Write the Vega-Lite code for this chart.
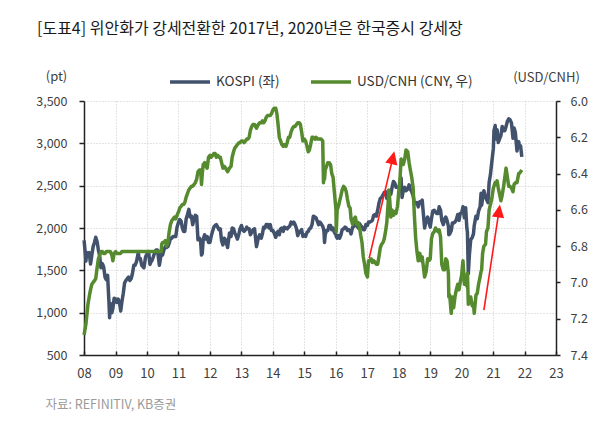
{
"$schema": "https://vega.github.io/schema/vega-lite/v6.json",
"width": 472, "height": 254,
"autosize": {"type": "none"},
"padding": {"left": 84, "top": 101, "right": 54, "bottom": 75},
"background": "white",
"config": {
"font": "Noto Sans CJK KR",
"view": {"stroke": null},
"axisX": {"labelExpr": "utcFormat(datum.value, '%y')", "tickCount": {"interval": "year", "step": 1}, "labelFontSize": 13, "labelColor": "#404040", "labelPadding": 16, "tickSize": -4, "tickColor": "#222", "tickWidth": 1.5, "domainColor": "#222", "domainWidth": 1.5, "grid": true, "gridColor": "#c8c8c8", "gridDash": [1, 2], "gridWidth": 1, "labelFlush": false, "labelOverlap": false, "titleX": -39, "titleY": 49, "titleAlign": "left", "titleAnchor": "start", "titleBaseline": "middle", "titleFontSize": 12.5, "titleFontWeight": "normal", "titleColor": "#9a9a9a"},
"axisY": {"labelFontSize": 12.5, "labelColor": "#404040", "tickColor": "#222", "tickWidth": 1.5, "domainColor": "#222", "domainWidth": 1.5, "titleAngle": 0, "titleAlign": "center", "titleBaseline": "middle", "titleFontSize": 13, "titleFontWeight": "normal", "titleColor": "#404040"}
},
"title": {"text": "[도표4] 위안화가 강세전환한 2017년, 2020년은 한국증시 강세장", "anchor": "start", "frame": "group", "dx": -47, "offset": 23, "fontSize": 16, "fontWeight": "normal", "color": "#1a1a1a"},
"datasets": {
"main": [
{"d":"2008-01-02","k":1853,"c":7.29},{"d":"2008-01-16","k":1700,"c":7.25},{"d":"2008-01-23","k":1610,"c":7.23},{"d":"2008-02-01","k":1710,"c":7.19},{"d":"2008-02-16","k":1690,"c":7.12},{"d":"2008-03-01","k":1710,"c":7.08},{"d":"2008-03-17","k":1575,"c":7.04},{"d":"2008-04-01","k":1680,"c":7.01},{"d":"2008-04-16","k":1780,"c":7.00},{"d":"2008-05-01","k":1830,"c":6.99},{"d":"2008-05-16","k":1890,"c":6.98},{"d":"2008-06-01","k":1840,"c":6.92},{"d":"2008-06-16","k":1740,"c":6.87},{"d":"2008-07-01","k":1670,"c":6.85},{"d":"2008-07-16","k":1530,"c":6.83},{"d":"2008-08-01","k":1580,"c":6.83},{"d":"2008-08-16","k":1540,"c":6.84},{"d":"2008-09-01","k":1420,"c":6.84},{"d":"2008-09-16","k":1390,"c":6.83},{"d":"2008-10-01","k":1440,"c":6.83},{"d":"2008-10-16","k":1140,"c":6.83},{"d":"2008-10-24","k":940,"c":6.83},{"d":"2008-11-01","k":1110,"c":6.83},{"d":"2008-11-20","k":1000,"c":6.85},{"d":"2008-12-01","k":1050,"c":6.88},{"d":"2008-12-16","k":1170,"c":6.84},
{"d":"2009-01-02","k":1160,"c":6.83},{"d":"2009-01-16","k":1120,"c":6.84},{"d":"2009-02-01","k":1160,"c":6.84},{"d":"2009-02-16","k":1120,"c":6.84},{"d":"2009-03-02","k":1020,"c":6.84},{"d":"2009-03-16","k":1130,"c":6.83},{"d":"2009-04-01","k":1230,"c":6.83},{"d":"2009-04-16","k":1350,"c":6.83},{"d":"2009-05-01","k":1380,"c":6.83},{"d":"2009-05-16","k":1400,"c":6.83},{"d":"2009-06-01","k":1420,"c":6.83},{"d":"2009-06-16","k":1380,"c":6.83},{"d":"2009-07-01","k":1400,"c":6.83},{"d":"2009-07-16","k":1460,"c":6.83},{"d":"2009-08-01","k":1560,"c":6.83},{"d":"2009-08-16","k":1560,"c":6.83},{"d":"2009-09-01","k":1600,"c":6.83},{"d":"2009-09-22","k":1710,"c":6.83},{"d":"2009-10-01","k":1640,"c":6.83},{"d":"2009-10-16","k":1640,"c":6.83},{"d":"2009-11-01","k":1560,"c":6.83},{"d":"2009-11-27","k":1530,"c":6.83},{"d":"2009-12-16","k":1660,"c":6.83},
{"d":"2010-01-04","k":1700,"c":6.83},{"d":"2010-01-20","k":1720,"c":6.83},{"d":"2010-02-05","k":1570,"c":6.83},{"d":"2010-02-16","k":1600,"c":6.83},{"d":"2010-03-02","k":1620,"c":6.83},{"d":"2010-03-16","k":1660,"c":6.83},{"d":"2010-04-01","k":1710,"c":6.83},{"d":"2010-04-16","k":1740,"c":6.83},{"d":"2010-05-03","k":1740,"c":6.83},{"d":"2010-05-25","k":1560,"c":6.83},{"d":"2010-06-16","k":1700,"c":6.83},{"d":"2010-06-21","k":1720,"c":6.79},{"d":"2010-07-01","k":1680,"c":6.78},{"d":"2010-07-16","k":1740,"c":6.78},{"d":"2010-08-02","k":1780,"c":6.77},{"d":"2010-08-16","k":1770,"c":6.80},{"d":"2010-09-01","k":1780,"c":6.78},{"d":"2010-09-16","k":1820,"c":6.72},{"d":"2010-10-01","k":1880,"c":6.68},{"d":"2010-10-16","k":1880,"c":6.66},{"d":"2010-11-01","k":1900,"c":6.65},{"d":"2010-11-16","k":1900,"c":6.64},{"d":"2010-12-01","k":1900,"c":6.65},{"d":"2010-12-16","k":2010,"c":6.63},
{"d":"2011-01-03","k":2070,"c":6.61},{"d":"2011-01-16","k":2100,"c":6.59},{"d":"2011-02-01","k":2080,"c":6.58},{"d":"2011-02-16","k":2000,"c":6.57},{"d":"2011-03-02","k":1960,"c":6.57},{"d":"2011-03-16","k":1960,"c":6.56},{"d":"2011-04-01","k":2110,"c":6.53},{"d":"2011-04-16","k":2160,"c":6.51},{"d":"2011-05-02","k":2220,"c":6.49},{"d":"2011-05-16","k":2130,"c":6.48},{"d":"2011-06-01","k":2140,"c":6.47},{"d":"2011-06-16","k":2040,"c":6.47},{"d":"2011-07-01","k":2100,"c":6.46},{"d":"2011-07-16","k":2150,"c":6.45},{"d":"2011-08-01","k":2140,"c":6.43},{"d":"2011-08-16","k":1860,"c":6.39},{"d":"2011-09-01","k":1880,"c":6.38},{"d":"2011-09-16","k":1840,"c":6.38},{"d":"2011-09-26","k":1680,"c":6.46},{"d":"2011-10-05","k":1700,"c":6.40},{"d":"2011-10-16","k":1870,"c":6.35},{"d":"2011-11-01","k":1920,"c":6.34},{"d":"2011-11-16","k":1870,"c":6.36},{"d":"2011-12-01","k":1900,"c":6.37},{"d":"2011-12-16","k":1830,"c":6.31},
{"d":"2012-01-02","k":1830,"c":6.30},{"d":"2012-01-16","k":1900,"c":6.31},{"d":"2012-02-01","k":1960,"c":6.30},{"d":"2012-02-16","k":2010,"c":6.29},{"d":"2012-03-02","k":2030,"c":6.29},{"d":"2012-03-16","k":2040,"c":6.31},{"d":"2012-04-02","k":2010,"c":6.30},{"d":"2012-04-16","k":1980,"c":6.31},{"d":"2012-05-01","k":1990,"c":6.31},{"d":"2012-05-16","k":1850,"c":6.34},{"d":"2012-06-01","k":1800,"c":6.37},{"d":"2012-06-16","k":1880,"c":6.36},{"d":"2012-07-02","k":1860,"c":6.37},{"d":"2012-07-25","k":1770,"c":6.39},{"d":"2012-08-16","k":1940,"c":6.37},{"d":"2012-09-03","k":1900,"c":6.36},{"d":"2012-09-16","k":2000,"c":6.31},{"d":"2012-10-02","k":1990,"c":6.28},{"d":"2012-10-16","k":1940,"c":6.26},{"d":"2012-11-01","k":1910,"c":6.25},{"d":"2012-11-16","k":1870,"c":6.24},{"d":"2012-12-03","k":1930,"c":6.23},{"d":"2012-12-16","k":1990,"c":6.23},
{"d":"2013-01-02","k":2030,"c":6.22},{"d":"2013-01-16","k":1980,"c":6.22},{"d":"2013-02-01","k":1960,"c":6.23},{"d":"2013-02-18","k":1980,"c":6.22},{"d":"2013-03-04","k":2010,"c":6.21},{"d":"2013-03-18","k":1990,"c":6.21},{"d":"2013-04-01","k":1990,"c":6.20},{"d":"2013-04-16","k":1920,"c":6.16},{"d":"2013-05-02","k":1950,"c":6.14},{"d":"2013-05-16","k":1980,"c":6.13},{"d":"2013-06-03","k":1990,"c":6.13},{"d":"2013-06-25","k":1780,"c":6.15},{"d":"2013-07-16","k":1880,"c":6.13},{"d":"2013-08-01","k":1920,"c":6.12},{"d":"2013-08-20","k":1880,"c":6.12},{"d":"2013-09-02","k":1930,"c":6.11},{"d":"2013-09-16","k":2010,"c":6.12},{"d":"2013-10-01","k":2000,"c":6.11},{"d":"2013-10-16","k":2040,"c":6.09},{"d":"2013-11-01","k":2040,"c":6.08},{"d":"2013-11-18","k":2000,"c":6.08},{"d":"2013-12-02","k":2040,"c":6.08},{"d":"2013-12-16","k":1970,"c":6.07},
{"d":"2014-01-02","k":1970,"c":6.05},{"d":"2014-01-16","k":1940,"c":6.04},{"d":"2014-02-04","k":1890,"c":6.04},{"d":"2014-02-17","k":1940,"c":6.07},{"d":"2014-03-03","k":1960,"c":6.13},{"d":"2014-03-17","k":1920,"c":6.20},{"d":"2014-04-01","k":1990,"c":6.22},{"d":"2014-04-16","k":2000,"c":6.24},{"d":"2014-05-02","k":1960,"c":6.25},{"d":"2014-05-16","k":2010,"c":6.24},{"d":"2014-06-02","k":2000,"c":6.25},{"d":"2014-06-16","k":1990,"c":6.23},{"d":"2014-07-01","k":2010,"c":6.20},{"d":"2014-07-16","k":2020,"c":6.20},{"d":"2014-08-01","k":2070,"c":6.17},{"d":"2014-08-18","k":2050,"c":6.15},{"d":"2014-09-01","k":2070,"c":6.14},{"d":"2014-09-16","k":2040,"c":6.14},{"d":"2014-10-01","k":2000,"c":6.13},{"d":"2014-10-17","k":1910,"c":6.12},{"d":"2014-11-03","k":1960,"c":6.12},{"d":"2014-11-17","k":1950,"c":6.13},{"d":"2014-12-01","k":1980,"c":6.17},{"d":"2014-12-16","k":1900,"c":6.22},
{"d":"2015-01-02","k":1920,"c":6.21},{"d":"2015-01-16","k":1900,"c":6.22},{"d":"2015-02-02","k":1950,"c":6.25},{"d":"2015-02-16","k":1960,"c":6.28},{"d":"2015-03-02","k":1990,"c":6.27},{"d":"2015-03-16","k":2000,"c":6.24},{"d":"2015-04-01","k":2040,"c":6.20},{"d":"2015-04-16","k":2140,"c":6.20},{"d":"2015-05-04","k":2130,"c":6.21},{"d":"2015-05-18","k":2120,"c":6.20},{"d":"2015-06-01","k":2080,"c":6.21},{"d":"2015-06-16","k":2040,"c":6.21},{"d":"2015-07-01","k":2070,"c":6.21},{"d":"2015-07-16","k":2050,"c":6.21},{"d":"2015-08-03","k":2020,"c":6.22},{"d":"2015-08-12","k":1990,"c":6.45},{"d":"2015-08-18","k":1950,"c":6.40},{"d":"2015-08-24","k":1830,"c":6.43},{"d":"2015-09-01","k":1920,"c":6.38},{"d":"2015-09-16","k":1970,"c":6.36},{"d":"2015-10-01","k":1970,"c":6.34},{"d":"2015-10-16","k":2030,"c":6.34},{"d":"2015-11-02","k":2030,"c":6.35},{"d":"2015-11-16","k":1980,"c":6.40},{"d":"2015-12-01","k":2000,"c":6.42},{"d":"2015-12-16","k":1950,"c":6.50},
{"d":"2016-01-04","k":1920,"c":6.60},{"d":"2016-01-07","k":1900,"c":6.72},{"d":"2016-01-18","k":1880,"c":6.60},{"d":"2016-02-01","k":1910,"c":6.58},{"d":"2016-02-16","k":1880,"c":6.55},{"d":"2016-03-02","k":1920,"c":6.52},{"d":"2016-03-16","k":1980,"c":6.49},{"d":"2016-04-01","k":1990,"c":6.47},{"d":"2016-04-18","k":2010,"c":6.48},{"d":"2016-05-02","k":2000,"c":6.50},{"d":"2016-05-16","k":1970,"c":6.54},{"d":"2016-06-01","k":1980,"c":6.58},{"d":"2016-06-16","k":1960,"c":6.59},{"d":"2016-06-27","k":1930,"c":6.65},{"d":"2016-07-15","k":2010,"c":6.68},{"d":"2016-08-01","k":2020,"c":6.65},{"d":"2016-08-16","k":2050,"c":6.64},{"d":"2016-09-01","k":2030,"c":6.68},{"d":"2016-09-19","k":2000,"c":6.67},{"d":"2016-10-04","k":2050,"c":6.70},{"d":"2016-10-17","k":2030,"c":6.74},{"d":"2016-11-01","k":2010,"c":6.78},{"d":"2016-11-16","k":1980,"c":6.86},{"d":"2016-12-01","k":1980,"c":6.90},{"d":"2016-12-16","k":2040,"c":6.95},
{"d":"2017-01-03","k":2030,"c":6.97},{"d":"2017-01-16","k":2070,"c":6.88},{"d":"2017-02-01","k":2070,"c":6.88},{"d":"2017-02-16","k":2080,"c":6.87},{"d":"2017-03-02","k":2090,"c":6.89},{"d":"2017-03-16","k":2150,"c":6.88},{"d":"2017-04-03","k":2160,"c":6.89},{"d":"2017-04-17","k":2140,"c":6.90},{"d":"2017-05-02","k":2210,"c":6.90},{"d":"2017-05-16","k":2290,"c":6.86},{"d":"2017-06-01","k":2350,"c":6.81},{"d":"2017-06-16","k":2360,"c":6.79},{"d":"2017-07-03","k":2390,"c":6.78},{"d":"2017-07-17","k":2420,"c":6.76},{"d":"2017-08-01","k":2430,"c":6.72},{"d":"2017-08-16","k":2350,"c":6.67},{"d":"2017-09-01","k":2360,"c":6.56},{"d":"2017-09-08","k":2340,"c":6.49},{"d":"2017-09-18","k":2390,"c":6.54},{"d":"2017-10-02","k":2400,"c":6.64},{"d":"2017-10-16","k":2480,"c":6.60},{"d":"2017-11-01","k":2550,"c":6.63},{"d":"2017-11-16","k":2530,"c":6.61},{"d":"2017-12-01","k":2480,"c":6.62},{"d":"2017-12-18","k":2480,"c":6.58},
{"d":"2018-01-02","k":2480,"c":6.50},{"d":"2018-01-16","k":2520,"c":6.43},{"d":"2018-01-29","k":2590,"c":6.32},{"d":"2018-02-09","k":2360,"c":6.33},{"d":"2018-02-23","k":2440,"c":6.35},{"d":"2018-03-12","k":2480,"c":6.32},{"d":"2018-03-27","k":2440,"c":6.27},{"d":"2018-04-16","k":2460,"c":6.28},{"d":"2018-05-02","k":2510,"c":6.34},{"d":"2018-05-16","k":2460,"c":6.38},{"d":"2018-06-01","k":2430,"c":6.42},{"d":"2018-06-18","k":2380,"c":6.48},{"d":"2018-07-02","k":2290,"c":6.63},{"d":"2018-07-16","k":2290,"c":6.75},{"d":"2018-08-01","k":2300,"c":6.83},{"d":"2018-08-16","k":2250,"c":6.88},{"d":"2018-09-03","k":2310,"c":6.84},{"d":"2018-09-17","k":2310,"c":6.88},{"d":"2018-10-01","k":2330,"c":6.86},{"d":"2018-10-16","k":2150,"c":6.92},{"d":"2018-10-29","k":2000,"c":6.97},{"d":"2018-11-16","k":2090,"c":6.94},{"d":"2018-12-03","k":2130,"c":6.87},{"d":"2018-12-17","k":2070,"c":6.88},
{"d":"2019-01-02","k":2010,"c":6.87},{"d":"2019-01-16","k":2110,"c":6.76},{"d":"2019-02-01","k":2200,"c":6.73},{"d":"2019-02-18","k":2210,"c":6.72},{"d":"2019-03-04","k":2190,"c":6.70},{"d":"2019-03-18","k":2170,"c":6.71},{"d":"2019-04-01","k":2170,"c":6.72},{"d":"2019-04-16","k":2250,"c":6.71},{"d":"2019-05-02","k":2210,"c":6.75},{"d":"2019-05-16","k":2090,"c":6.90},{"d":"2019-06-03","k":2040,"c":6.93},{"d":"2019-06-17","k":2100,"c":6.93},{"d":"2019-07-01","k":2130,"c":6.87},{"d":"2019-07-16","k":2090,"c":6.88},{"d":"2019-08-01","k":2020,"c":6.95},{"d":"2019-08-06","k":1920,"c":7.08},{"d":"2019-08-16","k":1930,"c":7.07},{"d":"2019-09-03","k":1970,"c":7.17},{"d":"2019-09-16","k":2060,"c":7.08},{"d":"2019-10-01","k":2060,"c":7.14},{"d":"2019-10-16","k":2070,"c":7.08},{"d":"2019-11-01","k":2100,"c":7.04},{"d":"2019-11-18","k":2160,"c":7.01},{"d":"2019-12-02","k":2090,"c":7.04},{"d":"2019-12-16","k":2170,"c":7.00},
{"d":"2020-01-02","k":2180,"c":6.96},{"d":"2020-01-17","k":2250,"c":6.88},{"d":"2020-02-03","k":2120,"c":7.01},{"d":"2020-02-17","k":2240,"c":6.99},{"d":"2020-03-02","k":2000,"c":7.02},{"d":"2020-03-09","k":1950,"c":6.95},{"d":"2020-03-19","k":1460,"c":7.12},{"d":"2020-04-01","k":1690,"c":7.10},{"d":"2020-04-16","k":1860,"c":7.08},{"d":"2020-05-04","k":1890,"c":7.13},{"d":"2020-05-18","k":1930,"c":7.12},{"d":"2020-05-27","k":2030,"c":7.17},{"d":"2020-06-16","k":2140,"c":7.07},{"d":"2020-07-01","k":2110,"c":7.06},{"d":"2020-07-16","k":2200,"c":7.01},{"d":"2020-08-03","k":2250,"c":6.97},{"d":"2020-08-14","k":2410,"c":6.94},{"d":"2020-08-21","k":2270,"c":6.93},{"d":"2020-09-01","k":2350,"c":6.84},{"d":"2020-09-16","k":2440,"c":6.80},{"d":"2020-10-05","k":2360,"c":6.79},{"d":"2020-10-16","k":2340,"c":6.72},{"d":"2020-11-02","k":2300,"c":6.70},{"d":"2020-11-16","k":2540,"c":6.60},{"d":"2020-12-01","k":2630,"c":6.57},{"d":"2020-12-16","k":2770,"c":6.54},
{"d":"2021-01-04","k":2940,"c":6.48},{"d":"2021-01-11","k":3150,"c":6.47},{"d":"2021-01-25","k":3210,"c":6.45},{"d":"2021-02-01","k":3050,"c":6.46},{"d":"2021-02-16","k":3160,"c":6.44},{"d":"2021-03-02","k":3010,"c":6.48},{"d":"2021-03-16","k":3050,"c":6.51},{"d":"2021-04-01","k":3090,"c":6.55},{"d":"2021-04-16","k":3200,"c":6.52},{"d":"2021-05-03","k":3150,"c":6.47},{"d":"2021-05-17","k":3150,"c":6.42},{"d":"2021-05-31","k":3200,"c":6.37},{"d":"2021-06-16","k":3260,"c":6.42},{"d":"2021-07-01","k":3290,"c":6.47},{"d":"2021-07-16","k":3280,"c":6.47},{"d":"2021-08-02","k":3240,"c":6.48},{"d":"2021-08-20","k":3060,"c":6.50},{"d":"2021-09-01","k":3180,"c":6.46},{"d":"2021-09-16","k":3130,"c":6.45},{"d":"2021-10-05","k":2910,"c":6.45},{"d":"2021-10-25","k":3020,"c":6.40},{"d":"2021-11-01","k":2980,"c":6.40},{"d":"2021-11-16","k":2970,"c":6.39},{"d":"2021-11-30","k":2840,"c":6.38}
],
"arrows": [
{"id":"a2017","d0":"2017-01-23","v0":6.867,"d1":"2017-10-25","v1":6.312},
{"id":"a2020","d0":"2020-09-16","v0":7.152,"d1":"2021-03-10","v1":6.606}
]
},
"layer": [
{
"data": {"name": "main"},
"mark": {"type": "line", "strokeWidth": 3.5, "strokeJoin": "round"},
"encoding": {
"x": {"field": "d", "type": "temporal",
"scale": {"type": "utc", "nice": false, "domain": [{"year": 2008, "month": 1, "date": 1, "utc": true}, {"year": 2023, "month": 1, "date": 1, "utc": true}]},
"axis": {"title": "자료: REFINITIV, KB증권"}},
"y": {"field": "k", "type": "quantitative",
"scale": {"domain": [500, 3500], "nice": false, "zero": false},
"axis": {"orient": "left", "values": [500, 1000, 1500, 2000, 2500, 3000, 3500], "format": ",.0f", "labelPadding": 12, "tickSize": 5, "grid": true, "gridColor": "#c8c8c8", "gridDash": [1, 2], "gridWidth": 1,
"title": "(pt)", "titleX": -28, "titleY": -25}},
"color": {"datum": "KOSPI (좌)", "type": "nominal",
"scale": {"domain": ["KOSPI (좌)", "USD/CNH (CNY, 우)"], "range": ["#42526c", "#568a2e"]},
"legend": {"orient": "none", "legendX": 84, "legendY": -41, "direction": "horizontal", "title": null, "symbolType": "stroke", "symbolSize": 1600, "symbolStrokeWidth": 3.5, "labelFontSize": 13.5, "labelColor": "#333", "labelOffset": 4, "columnPadding": 24, "padding": 0}}
}
},
{
"data": {"name": "main"},
"mark": {"type": "line", "strokeWidth": 3.5, "strokeJoin": "round"},
"encoding": {
"x": {"field": "d", "type": "temporal"},
"y": {"field": "c", "type": "quantitative",
"scale": {"domain": [6.0, 7.4], "reverse": true, "nice": false, "zero": false},
"axis": {"orient": "right", "values": [6.0, 6.2, 6.4, 6.6, 6.8, 7.0, 7.2, 7.4], "format": ".1f", "labelPadding": 10, "tickSize": 4, "grid": false,
"title": "(USD/CNH)", "titleX": -10, "titleY": -24}},
"color": {"datum": "USD/CNH (CNY, 우)", "type": "nominal"}
}
},
{
"data": {"name": "arrows"},
"mark": {"type": "rule", "color": "#ff1a1a", "strokeWidth": 1.6},
"encoding": {
"x": {"field": "d0", "type": "temporal"},
"x2": {"field": "d1"},
"y": {"field": "v0", "type": "quantitative", "scale": {"domain": [6.0, 7.4], "reverse": true, "nice": false, "zero": false}, "axis": null},
"y2": {"field": "v1"}
}
},
{
"data": {"name": "arrows"},
"transform": [{"filter": "datum.id == 'a2017'"}],
"mark": {"type": "point", "shape": "M0,-1L0.95,1L-0.95,1Z", "filled": true, "color": "#ff1a1a", "opacity": 1, "size": 170, "angle": 13.4},
"encoding": {
"x": {"field": "d1", "type": "temporal"},
"y": {"field": "v1", "type": "quantitative", "scale": {"domain": [6.0, 7.4], "reverse": true, "nice": false, "zero": false}, "axis": null}
}
},
{
"data": {"name": "arrows"},
"transform": [{"filter": "datum.id == 'a2020'"}],
"mark": {"type": "point", "shape": "M0,-1L0.95,1L-0.95,1Z", "filled": true, "color": "#ff1a1a", "opacity": 1, "size": 170, "angle": 8.7},
"encoding": {
"x": {"field": "d1", "type": "temporal"},
"y": {"field": "v1", "type": "quantitative", "scale": {"domain": [6.0, 7.4], "reverse": true, "nice": false, "zero": false}, "axis": null}
}
}
],
"resolve": {"scale": {"y": "independent"}, "axis": {"y": "independent"}}
}
